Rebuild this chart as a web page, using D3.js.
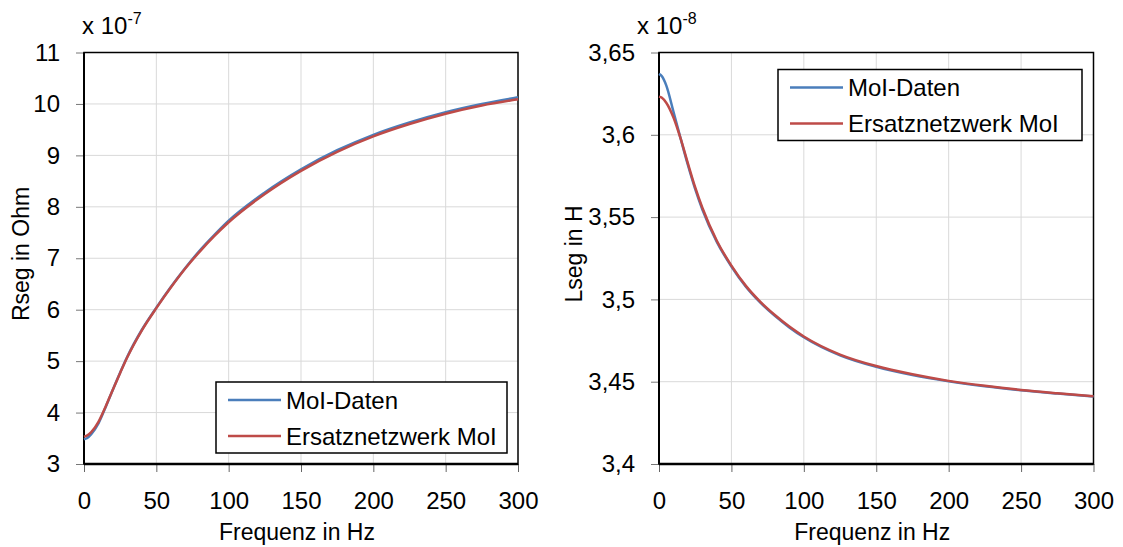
<!DOCTYPE html>
<html>
<head>
<meta charset="utf-8">
<script src="https://cdn.jsdelivr.net/npm/d3@7/dist/d3.min.js"></script>
<style>
  html, body { margin: 0; padding: 0; background: #fff; }
  svg { display: block; font-family: "Liberation Sans", Arial, sans-serif; }
</style>
</head>
<body>
<svg id="chart" width="1123" height="547"></svg>
<script>
// Frequency grid (Hz) shared by all series
const freq = [0, 2, 5, 10, 15, 20, 25, 30, 40, 50, 60, 70, 80, 90, 100, 125, 150, 175, 200, 225, 250, 275, 300];

// Segment resistance, units of 1e-7 Ohm
const rMolData = [3.48, 3.50, 3.58, 3.79, 4.11, 4.45, 4.78, 5.09, 5.61, 6.04, 6.44, 6.81, 7.15, 7.45, 7.73, 8.28, 8.73, 9.10, 9.40, 9.64, 9.84, 10.00, 10.13];
const rNetwork = [3.53, 3.55, 3.62, 3.82, 4.12, 4.45, 4.77, 5.08, 5.60, 6.03, 6.43, 6.80, 7.13, 7.43, 7.70, 8.25, 8.70, 9.07, 9.37, 9.61, 9.81, 9.97, 10.09];

// Segment inductance, units of 1e-8 H
const lMolData = [3.637, 3.6355, 3.630, 3.614, 3.5975, 3.5815, 3.5670, 3.5545, 3.5348, 3.5200, 3.5077, 3.4980, 3.4900, 3.4830, 3.4770, 3.4660, 3.4590, 3.4540, 3.4502, 3.4472, 3.4448, 3.4428, 3.4410];
const lNetwork = [3.6232, 3.6225, 3.6195, 3.6105, 3.5975, 3.5825, 3.5680, 3.5555, 3.5355, 3.5205, 3.5082, 3.4985, 3.4905, 3.4835, 3.4775, 3.4665, 3.4595, 3.4545, 3.4505, 3.4475, 3.4450, 3.4430, 3.4412];

// Axis ticks
const xTicks = [0, 50, 100, 150, 200, 250, 300];
const rTicks = [3, 4, 5, 6, 7, 8, 9, 10, 11];
const lTicks = [3.4, 3.45, 3.5, 3.55, 3.6, 3.65];

const seriesNames = ["MoI-Daten", "Ersatznetzwerk MoI"];
const seriesColors = ["#4a7ebb", "#be4b48"];

const svg = d3.select("#chart");
const commaFmt = d => String(+d.toFixed(4)).replace(".", ",");
const FONT = "Liberation Sans, Arial, sans-serif";

function panel(cfg) {
  const x = d3.scaleLinear().domain([0, 300]).range([cfg.left, cfg.right]);
  const y = d3.scaleLinear().domain(cfg.yDomain).range([cfg.bottom, cfg.top]);
  const g = svg.append("g");

  // grid
  g.append("g").selectAll("line").data(xTicks.slice(1, -1)).join("line")
    .attr("x1", d => x(d)).attr("x2", d => x(d))
    .attr("y1", cfg.top).attr("y2", cfg.bottom)
    .attr("stroke", "#d9d9d9").attr("stroke-width", 1);
  g.append("g").selectAll("line").data(cfg.yTicks.slice(1, -1)).join("line")
    .attr("x1", cfg.left).attr("x2", cfg.right)
    .attr("y1", d => y(d)).attr("y2", d => y(d))
    .attr("stroke", "#d9d9d9").attr("stroke-width", 1);

  // x axis
  const xAxis = g.append("g").attr("transform", `translate(0,${cfg.bottom})`)
    .call(d3.axisBottom(x).tickValues(xTicks).tickSize(8).tickSizeOuter(0).tickPadding(20));
  xAxis.select(".domain").remove();
  xAxis.selectAll(".tick line").attr("stroke", "#666");
  xAxis.selectAll(".tick text").attr("font-size", 24).attr("fill", "#000").attr("font-family", FONT);

  // y axis
  const yAxis = g.append("g").attr("transform", `translate(${cfg.left},0)`)
    .call(d3.axisLeft(y).tickValues(cfg.yTicks).tickSize(8).tickSizeOuter(0).tickPadding(16).tickFormat(cfg.fmt));
  yAxis.select(".domain").remove();
  yAxis.selectAll(".tick line").attr("stroke", "#777");
  yAxis.selectAll(".tick text").attr("font-size", 24).attr("fill", "#000").attr("font-family", FONT);

  // plot frame
  g.append("rect")
    .attr("x", cfg.left).attr("y", cfg.top)
    .attr("width", cfg.right - cfg.left).attr("height", cfg.bottom - cfg.top)
    .attr("fill", "none").attr("stroke", "#000").attr("stroke-width", 1.5);
  g.append("line").attr("x1", cfg.left).attr("x2", cfg.left)
    .attr("y1", cfg.top).attr("y2", cfg.bottom).attr("stroke", "#000").attr("stroke-width", 2);
  g.append("line").attr("x1", cfg.left).attr("x2", cfg.right)
    .attr("y1", cfg.bottom).attr("y2", cfg.bottom).attr("stroke", "#000").attr("stroke-width", 2.5);

  // series
  const line = d3.line().x((d, i) => x(freq[i])).y(d => y(d)).curve(d3.curveMonotoneX);
  cfg.series.forEach((s, i) => {
    g.append("path").datum(s).attr("d", line)
      .attr("fill", "none").attr("stroke", seriesColors[i]).attr("stroke-width", 2.5)
      .attr("stroke-linejoin", "round");
  });

  // exponent label
  const ex = g.append("text").attr("x", cfg.expX).attr("y", 34).attr("font-size", 24);
  ex.append("tspan").text("x 10");
  ex.append("tspan").attr("font-size", 16).attr("dy", -10).text(cfg.exp);

  // axis titles
  g.append("text").attr("x", (cfg.left + cfg.right) / 2 - 4).attr("y", 540)
    .attr("text-anchor", "middle").attr("font-size", 23).text("Frequenz in Hz");
  g.append("text").attr("transform", `translate(${cfg.yTitleX},254) rotate(-90)`)
    .attr("text-anchor", "middle").attr("font-size", 23).text(cfg.yTitle);

  // legend
  const L = cfg.legend;
  const lg = g.append("g");
  lg.append("rect").attr("x", L.x).attr("y", L.y).attr("width", L.w).attr("height", L.h)
    .attr("fill", "#fff").attr("stroke", "#000").attr("stroke-width", 1.5);
  seriesNames.forEach((name, i) => {
    const ly = L.y + 18 + i * 36;
    lg.append("line").attr("x1", L.x + 12).attr("x2", L.x + 65)
      .attr("y1", ly).attr("y2", ly).attr("stroke", seriesColors[i]).attr("stroke-width", 2.5);
    lg.append("text").attr("x", L.x + 70).attr("y", ly + 8.5).attr("font-size", 24).text(name);
  });
}

panel({
  left: 84, right: 518, top: 52.5, bottom: 464,
  yDomain: [3, 11], yTicks: rTicks, fmt: d3.format("d"),
  series: [rMolData, rNetwork],
  exp: "-7", expX: 82, yTitle: "Rseg in Ohm", yTitleX: 29,
  legend: { x: 216, y: 382, w: 291, h: 71 }
});

panel({
  left: 659, right: 1093.5, top: 52.5, bottom: 464,
  yDomain: [3.4, 3.65], yTicks: lTicks, fmt: commaFmt,
  series: [lMolData, lNetwork],
  exp: "-8", expX: 637, yTitle: "Lseg in H", yTitleX: 582,
  legend: { x: 778, y: 69.5, w: 304, h: 71 }
});
</script>
</body>
</html>
